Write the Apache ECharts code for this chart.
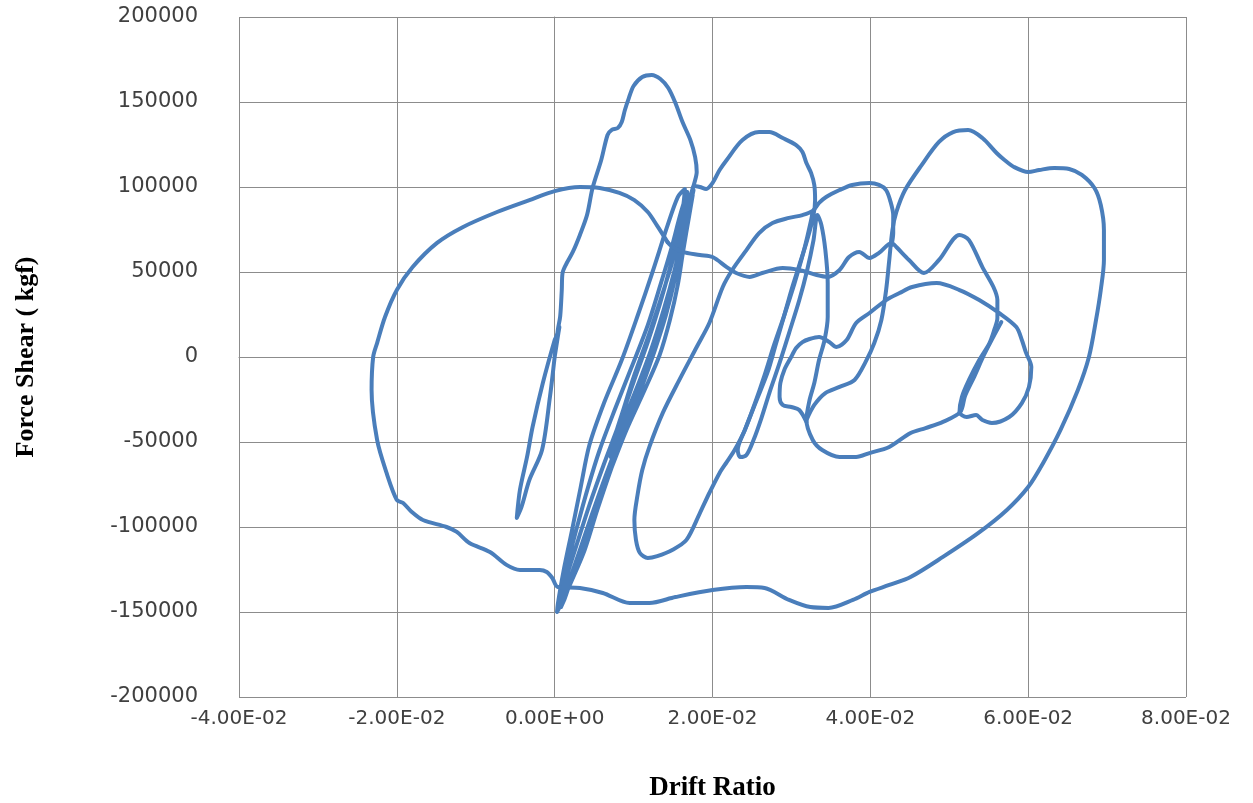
<!DOCTYPE html>
<html>
<head>
<meta charset="utf-8">
<title>Drift Ratio vs Force Shear</title>
<script src="https://cdn.jsdelivr.net/npm/echarts@6/dist/echarts.min.js"></script>
<style>
  html, body { margin: 0; padding: 0; background: #ffffff; }
  #chart { width: 1253px; height: 803px; }
</style>
</head>
<body>
<div id="chart"></div>
<script>
// Axis ticks and their labels
const xTickValues = [-0.04, -0.02, 0, 0.02, 0.04, 0.06, 0.08];
const xTickLabels = ['-4.00E-02', '-2.00E-02', '0.00E+00', '2.00E-02', '4.00E-02', '6.00E-02', '8.00E-02'];
const yTickValues = [-200000, -150000, -100000, -50000, 0, 50000, 100000, 150000, 200000];
const yTickLabels = ['-200000', '-150000', '-100000', '-50000', '0', '50000', '100000', '150000', '200000'];

// Hysteresis trace, [drift ratio, shear force kgf], split into consecutive strokes
const firstCycle = [
  [0, 0], [0.0004, 12000], [0.0006, 17600], [0.0002, 12000], [0, 10000],
  [-0.0015, -15300], [-0.0028, -41200], [-0.0035, -58800], [-0.0044, -78200], [-0.0048, -94700],
  [-0.0042, -88200], [-0.0032, -72300], [-0.0016, -54700], [-0.0006, -23500], [0, 0],
  [0.0004, 15900], [0.0007, 24000], [0.0009, 39400], [0.0010, 49400], [0.0014, 54100],
  [0.0023, 61800], [0.0032, 71800], [0.0041, 83500], [0.0048, 99400], [0.0059, 115900],
  [0.0067, 130600], [0.0072, 133500], [0.0080, 134700], [0.0085, 138200], [0.0089, 145300],
  [0.0094, 152300], [0.0100, 159400], [0.0111, 164700], [0.0123, 165900], [0.0134, 163500],
  [0.0144, 158200], [0.0153, 149400], [0.0162, 138200], [0.0172, 127600], [0.0178, 117600],
  [0.0180, 108800], [0.0177, 102300], [0.0175, 99400]
];

const repeatedCycles = [
  [0.0175, 99400],
  [0.0171, 92300], [0.0166, 79400], [0.0159, 62900], [0.0152, 45300], [0.0141, 24700], [0.0127, 4100],
  [0.0109, -19400], [0.0090, -42900], [0.0072, -65300], [0.0054, -90000], [0.0038, -113500],
  [0.0022, -131200], [0.0009, -144700], [0.0003, -150000],
  [0.0004, -145300], [0.0011, -126500], [0.0022, -101800], [0.0033, -76500], [0.0044, -51800],
  [0.0063, -26500], [0.0085, -1800], [0.0105, 24100], [0.0124, 50000], [0.0142, 75900],
  [0.0156, 94100], [0.0165, 98800],
  [0.0163, 89400], [0.0156, 71800], [0.0146, 52400], [0.0133, 30600], [0.0118, 8800], [0.0100, -14700],
  [0.0081, -40000], [0.0062, -63500], [0.0044, -87100], [0.0029, -108800], [0.0015, -129400], [0.0005, -145900],
  [0.0008, -141800], [0.0016, -122300], [0.0028, -100600], [0.0042, -77100], [0.0057, -54700],
  [0.0076, -31200], [0.0097, -6500], [0.0118, 18800], [0.0134, 42400], [0.0148, 64100],
  [0.0159, 83500], [0.0168, 97100],
  [0.0167, 89400], [0.0159, 73500], [0.0148, 54100], [0.0134, 33500], [0.0118, 11200], [0.0101, -10600],
  [0.0086, -32400], [0.0075, -48800], [0.0071, -58800],
  [0.0075, -52400], [0.0085, -40000], [0.0103, -19400], [0.0122, 4100], [0.0138, 27600],
  [0.0152, 51200], [0.0163, 73500], [0.0172, 93500], [0.0176, 98200],
  [0.0172, 89400], [0.0166, 74700], [0.0157, 57100], [0.0147, 39400], [0.0133, 18800], [0.0118, -1800],
  [0.0103, -22400], [0.0085, -44700], [0.0065, -69400], [0.0047, -92900], [0.0032, -113500],
  [0.0018, -132300], [0.0008, -147100],
  [0.0013, -141800], [0.0025, -125300], [0.0042, -104700], [0.0057, -84100], [0.0072, -65300],
  [0.0091, -42900], [0.0114, -19400], [0.0133, 1200], [0.0146, 21800], [0.0156, 42400],
  [0.0163, 62900], [0.0170, 81800], [0.0175, 95300]
];

const secondPeak = [
  [0.0177, 100600], [0.0184, 100000], [0.0192, 98800], [0.0200, 102300], [0.0209, 110000],
  [0.0218, 115900], [0.0238, 127600], [0.0259, 132300], [0.0272, 132300], [0.0289, 128800],
  [0.0306, 124700], [0.0314, 120600], [0.0319, 114100], [0.0325, 108200], [0.0329, 101200],
  [0.0330, 92300], [0.0328, 83500], [0.0320, 68800], [0.0310, 54100], [0.0300, 39400],
  [0.0290, 22900], [0.0280, 7100], [0.0270, -8800], [0.0256, -25300], [0.0241, -42900],
  [0.0232, -54700], [0.0235, -58800], [0.0243, -57600], [0.0252, -48800], [0.0262, -35900],
  [0.0272, -21200], [0.0285, -3500], [0.0297, 14100], [0.0310, 33500], [0.0320, 51200],
  [0.0328, 68800], [0.0333, 83500], [0.0338, 77600], [0.0343, 62900], [0.0346, 43500],
  [0.0346, 23500], [0.0342, 10000], [0.0335, -1800], [0.0329, -15300], [0.0323, -25300],
  [0.0319, -37100], [0.0327, -48800], [0.0339, -54700], [0.0361, -58800], [0.0382, -58800],
  [0.0399, -56500], [0.0424, -52900], [0.0451, -44700], [0.0470, -41800], [0.0492, -38200],
  [0.0514, -32400], [0.0520, -22900], [0.0532, -11200], [0.0544, 1200], [0.0557, 12900],
  [0.0566, 20600]
];

const uLoop = [
  [0.0327, 85900], [0.0325, 80600], [0.0316, 62900], [0.0304, 43500], [0.0291, 24700],
  [0.0278, 7100], [0.0266, -10600], [0.0253, -28200], [0.0241, -42900], [0.0228, -54700],
  [0.0218, -61800], [0.0209, -68200], [0.0196, -80000], [0.0184, -91800], [0.0167, -107600],
  [0.0149, -113500], [0.0130, -117100], [0.0118, -118200], [0.0108, -115300], [0.0103, -107600],
  [0.0101, -95900], [0.0105, -81200], [0.0111, -66500], [0.0120, -52900], [0.0137, -32900],
  [0.0158, -13500], [0.0180, 5900], [0.0196, 20000], [0.0213, 41200], [0.0225, 51200],
  [0.0243, 62900], [0.0259, 72900], [0.0276, 78800], [0.0297, 81800], [0.0314, 83500],
  [0.0327, 85900], [0.0335, 90600], [0.0344, 94100], [0.0361, 98200], [0.0377, 101200],
  [0.0399, 102300], [0.0411, 101200], [0.0420, 98200], [0.0425, 92300], [0.0429, 83500],
  [0.0429, 72900], [0.0427, 65900]
];

const innerLoops = [
  [0.0319, -38200], [0.0310, -31200], [0.0300, -29400], [0.0289, -28200], [0.0285, -23500],
  [0.0286, -15300], [0.0291, -7600], [0.0299, -600], [0.0306, 5300], [0.0314, 8800],
  [0.0323, 10600], [0.0335, 11800], [0.0348, 8800], [0.0357, 5900], [0.0370, 10000],
  [0.0382, 20000], [0.0399, 25900], [0.0420, 33500], [0.0437, 37600], [0.0453, 41200],
  [0.0484, 43500], [0.0513, 39400], [0.0538, 33500], [0.0563, 25900], [0.0585, 17600],
  [0.0592, 10000], [0.0597, 2900], [0.0604, -5900], [0.0601, -17600], [0.0592, -27100],
  [0.0576, -35300], [0.0554, -38800], [0.0542, -37100], [0.0534, -34100], [0.0522, -35300],
  [0.0513, -32400], [0.0516, -23500], [0.0525, -13500], [0.0538, -1800], [0.0551, 8200],
  [0.0557, 15900], [0.0561, 22900], [0.0561, 33500], [0.0556, 41200], [0.0542, 52900],
  [0.0525, 68800], [0.0513, 71800], [0.0487, 57100], [0.0468, 49400], [0.0449, 57100],
  [0.0433, 64700], [0.0427, 67100], [0.0411, 61200], [0.0399, 58200], [0.0386, 61800],
  [0.0373, 58800], [0.0361, 51200], [0.0346, 47100], [0.0332, 48200], [0.0310, 51200],
  [0.0289, 52400], [0.0263, 49400], [0.0247, 47100], [0.0230, 49400], [0.0218, 52900],
  [0.0200, 58800], [0.0184, 60000], [0.0162, 61800], [0.0148, 65300], [0.0143, 67600]
];

const outerLoop = [
  [0.0143, 67600], [0.0130, 77100], [0.0118, 85300], [0.0101, 92300], [0.0082, 96500],
  [0.0057, 99400], [0.0032, 100000], [0, 97600], [-0.0032, 92300], [-0.0073, 85300],
  [-0.0116, 76500], [-0.0149, 67100], [-0.0180, 52900], [-0.0200, 39400], [-0.0215, 23500],
  [-0.0225, 8200], [-0.0230, 0], [-0.0232, -19400], [-0.0225, -48800], [-0.0213, -68200],
  [-0.0200, -84100], [-0.0192, -85900], [-0.0181, -91200], [-0.0167, -95900], [-0.0137, -100000],
  [-0.0124, -102900], [-0.0108, -109400], [-0.0082, -114700], [-0.0061, -122300], [-0.0044, -125300],
  [-0.0019, -125300], [-0.0010, -126500], [-0.0003, -130000], [0.0004, -135300], [0.0032, -135900],
  [0.0061, -138800], [0.0095, -144700], [0.0120, -144700], [0.0153, -141200], [0.0200, -137100],
  [0.0243, -135300], [0.0266, -135900], [0.0297, -142900], [0.0324, -147100], [0.0347, -147600],
  [0.0378, -142900], [0.0399, -138200], [0.0424, -134100], [0.0451, -129400], [0.0492, -117600],
  [0.0537, -103500], [0.0573, -90000], [0.0600, -76500], [0.0619, -62300], [0.0641, -42900],
  [0.0663, -19400], [0.0677, 0], [0.0686, 21800], [0.0692, 39400], [0.0696, 57100],
  [0.0696, 74700], [0.0692, 89400], [0.0684, 99400], [0.0668, 107100], [0.0652, 110600],
  [0.0633, 111200], [0.0614, 110000], [0.0600, 108800], [0.0582, 111800], [0.0570, 115900],
  [0.0560, 120000], [0.0542, 128800], [0.0524, 133500], [0.0505, 132300], [0.0487, 126500],
  [0.0465, 112900], [0.0444, 98200], [0.0433, 85300], [0.0428, 74700], [0.0424, 57100],
  [0.0420, 39400], [0.0414, 21800], [0.0405, 8200], [0.0394, -2900], [0.0380, -13500],
  [0.0361, -17600], [0.0343, -21200], [0.0329, -28200], [0.0319, -37100]
];

const strokes = [firstCycle, repeatedCycles, secondPeak, uLoop, innerLoops, outerLoop];

const xMin = xTickValues[0], xMax = xTickValues[xTickValues.length - 1];
const xStep = xTickValues[1] - xTickValues[0];
const yMin = yTickValues[0], yMax = yTickValues[yTickValues.length - 1];
const yStep = yTickValues[1] - yTickValues[0];

const gridColor = '#8c8c8c';
const curveColor = '#4a7ebb';
const titleFont = { fontFamily: 'Liberation Serif', fontWeight: 'bold', fontSize: 27, color: '#000000' };

const chart = echarts.init(document.getElementById('chart'), null, { renderer: 'canvas' });

chart.setOption({
  animation: false,
  backgroundColor: '#ffffff',
  grid: { left: 239, top: 17, right: 67, bottom: 106, containLabel: false, outerBoundsMode: 'none' },
  xAxis: {
    type: 'value',
    min: xMin, max: xMax, interval: xStep,
    axisLine: { show: true, lineStyle: { color: gridColor, width: 1 } },
    axisTick: { show: false },
    splitLine: { show: true, lineStyle: { color: gridColor, width: 1 } },
    axisLabel: {
      margin: 12,
      color: '#404040',
      fontFamily: 'DejaVu Sans',
      fontSize: 20,
      formatter: function (v) {
        return xTickLabels[Math.round((v - xMin) / xStep)];
      }
    },
    name: 'Drift Ratio',
    nameLocation: 'middle',
    nameGap: 78,
    nameTextStyle: titleFont
  },
  yAxis: {
    type: 'value',
    min: yMin, max: yMax, interval: yStep,
    axisLine: { show: true, lineStyle: { color: gridColor, width: 1 } },
    axisTick: { show: false },
    splitLine: { show: true, lineStyle: { color: gridColor, width: 1 } },
    axisLabel: {
      margin: 41,
      color: '#404040',
      fontFamily: 'DejaVu Sans',
      fontSize: 21,
      formatter: function (v) {
        return yTickLabels[Math.round((v - yMin) / yStep)];
      }
    },
    name: 'Force Shear ( kgf)',
    nameLocation: 'middle',
    nameRotate: 90,
    nameGap: 200,
    nameTextStyle: { fontFamily: 'Liberation Serif', fontWeight: 'bold', fontSize: 26, color: '#000000' }
  },
  series: strokes.map(function (pts) {
    return {
      type: 'line',
      data: pts,
      showSymbol: false,
      smooth: 0.3,
      clip: true,
      lineStyle: { color: curveColor, width: 4, cap: 'round', join: 'round' }
    };
  })
});
</script>
</body>
</html>
